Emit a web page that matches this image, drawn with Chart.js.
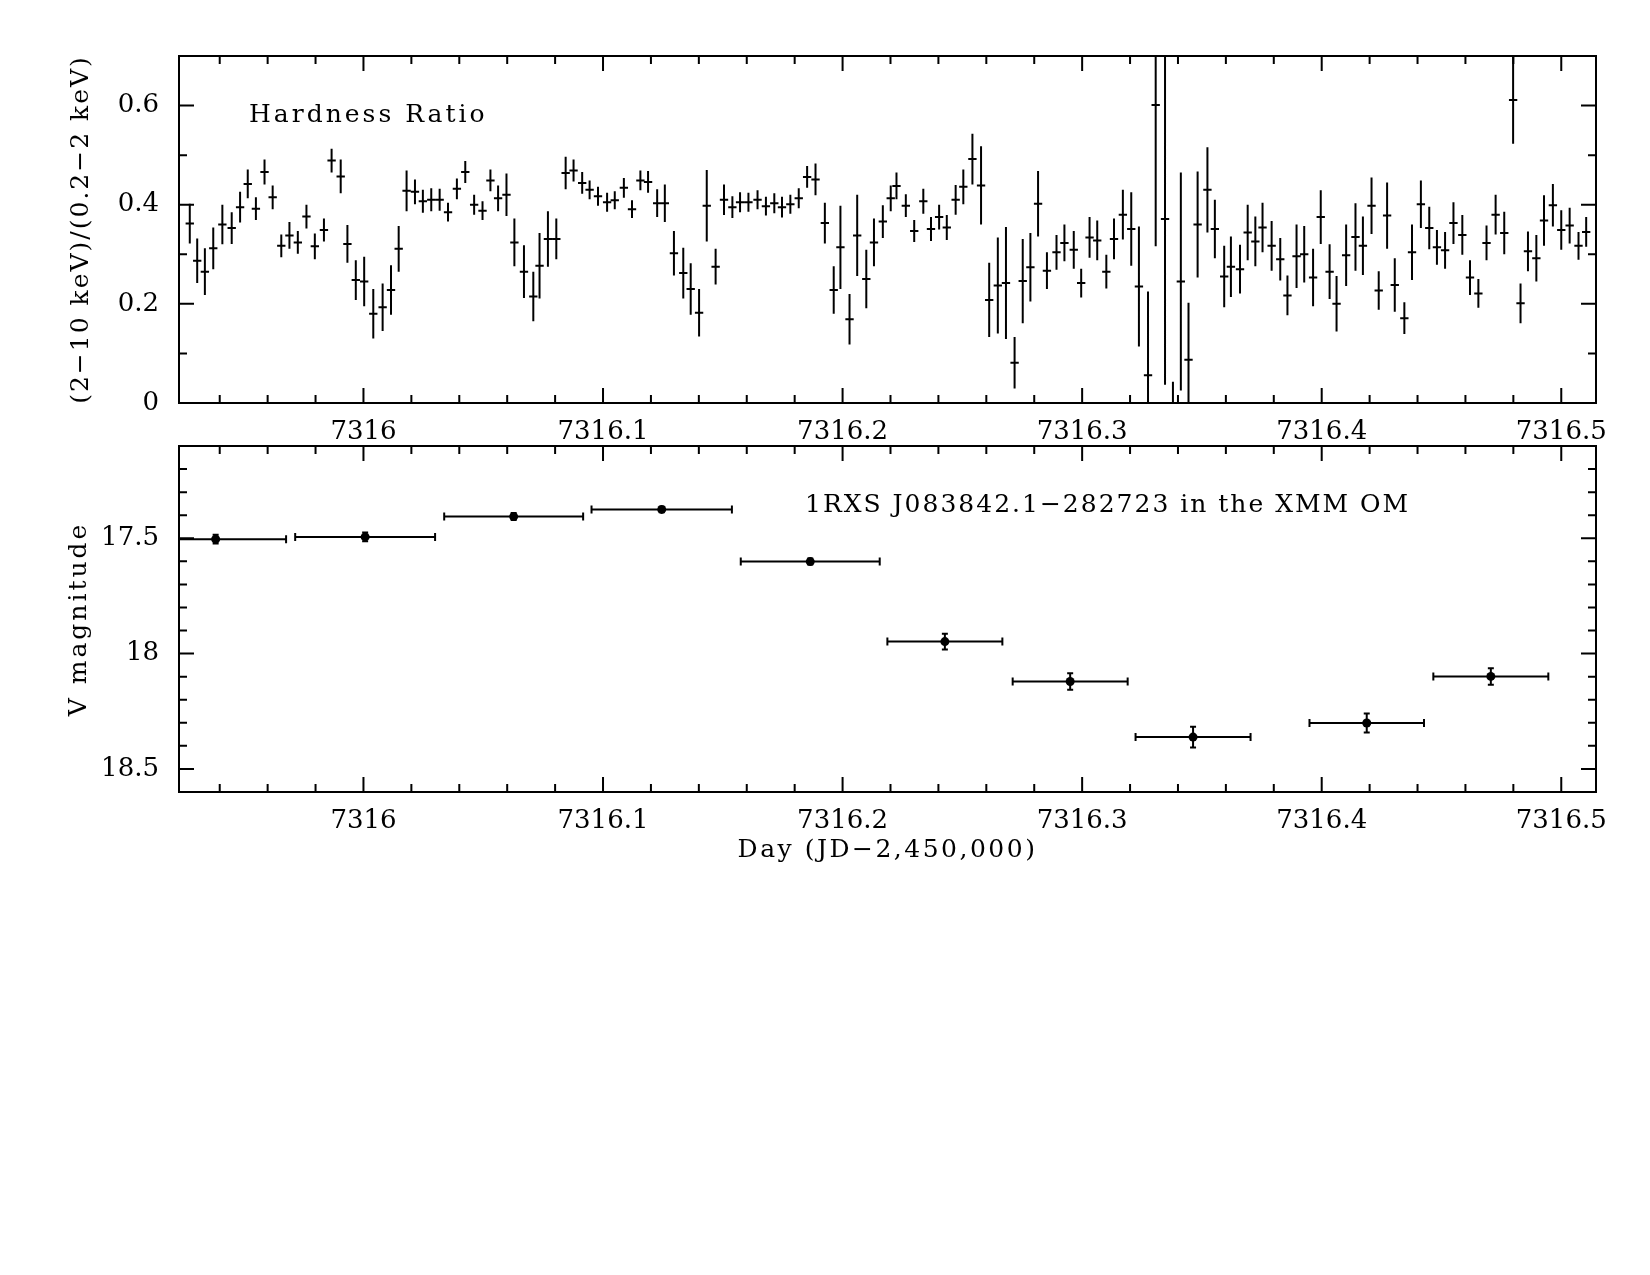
<!DOCTYPE html>
<html>
<head>
<meta charset="utf-8">
<script src="https://cdn.jsdelivr.net/npm/chart.js@4"></script>
<style>
body { margin: 0; background: #fff; }
#wrap { position: relative; width: 1650px; height: 1275px; background: #fff; }
canvas { position: absolute; left: 0; }
</style>
</head>
<body>
<div id="wrap">
  <canvas id="hr" width="1650" height="446" style="top:0px"></canvas>
  <canvas id="om" width="1650" height="472" style="top:408px"></canvas>
</div>
<script>
// Hardness ratio light curve (day, ratio, 1-sigma error)
const hrTime = [
  7315.9275, 7315.9306, 7315.9338, 7315.9373, 7315.9411, 7315.9450, 7315.9485, 7315.9517, 7315.9551, 7315.9587,
  7315.9621, 7315.9657, 7315.9691, 7315.9726, 7315.9762, 7315.9797, 7315.9835, 7315.9867, 7315.9905, 7315.9933,
  7315.9968, 7316.0003, 7316.0041, 7316.0080, 7316.0115, 7316.0147, 7316.0180, 7316.0215, 7316.0248, 7316.0283,
  7316.0318, 7316.0353, 7316.0390, 7316.0425, 7316.0462, 7316.0497, 7316.0530, 7316.0562, 7316.0597, 7316.0630,
  7316.0670, 7316.0709, 7316.0735, 7316.0770, 7316.0805, 7316.0844, 7316.0877, 7316.0913, 7316.0944, 7316.0979,
  7316.1017, 7316.1049, 7316.1087, 7316.1121, 7316.1156, 7316.1188, 7316.1226, 7316.1258, 7316.1296, 7316.1335,
  7316.1366, 7316.1401, 7316.1433, 7316.1470, 7316.1505, 7316.1540, 7316.1572, 7316.1607, 7316.1645, 7316.1680,
  7316.1715, 7316.1747, 7316.1782, 7316.1817, 7316.1852, 7316.1887, 7316.1926, 7316.1963, 7316.1991, 7316.2029,
  7316.2061, 7316.2099, 7316.2131, 7316.2168, 7316.2201, 7316.2225, 7316.2264, 7316.2299, 7316.2337, 7316.2369,
  7316.2403, 7316.2435, 7316.2472, 7316.2504, 7316.2542, 7316.2578, 7316.2612, 7316.2648, 7316.2682, 7316.2718,
  7316.2752, 7316.2784, 7316.2816, 7316.2853, 7316.2893, 7316.2926, 7316.2965, 7316.2996, 7316.3031, 7316.3063,
  7316.3101, 7316.3133, 7316.3170, 7316.3205, 7316.3237, 7316.3275, 7316.3307, 7316.3346, 7316.3379, 7316.3412,
  7316.3444, 7316.3482, 7316.3523, 7316.3554, 7316.3593, 7316.3621, 7316.3659, 7316.3691, 7316.3723, 7316.3753,
  7316.3791, 7316.3827, 7316.3857, 7316.3895, 7316.3927, 7316.3964, 7316.3996, 7316.4033, 7316.4062, 7316.4102,
  7316.4141, 7316.4172, 7316.4208, 7316.4238, 7316.4273, 7316.4305, 7316.4345, 7316.4377, 7316.4414, 7316.4449,
  7316.4481, 7316.4515, 7316.4550, 7316.4587, 7316.4619, 7316.4654, 7316.4688, 7316.4726, 7316.4762, 7316.4799,
  7316.4830, 7316.4861, 7316.4896, 7316.4928, 7316.4965, 7316.5000, 7316.5035, 7316.5072, 7316.5104
];
const hrRatio = [
  0.362, 0.287, 0.265, 0.312, 0.360, 0.353, 0.395, 0.442, 0.392, 0.466,
  0.415, 0.317, 0.338, 0.324, 0.376, 0.316, 0.349, 0.489, 0.457, 0.321,
  0.248, 0.245, 0.180, 0.193, 0.228, 0.311, 0.428, 0.426, 0.407, 0.410,
  0.410, 0.385, 0.432, 0.466, 0.400, 0.388, 0.449, 0.413, 0.420, 0.324,
  0.265, 0.215, 0.277, 0.331, 0.331, 0.464, 0.469, 0.444, 0.430, 0.417,
  0.405, 0.409, 0.434, 0.391, 0.449, 0.446, 0.403, 0.403, 0.302, 0.262,
  0.230, 0.182, 0.398, 0.275, 0.410, 0.395, 0.405, 0.405, 0.410, 0.397,
  0.403, 0.395, 0.401, 0.413, 0.456, 0.451, 0.363, 0.228, 0.314, 0.169,
  0.338, 0.250, 0.324, 0.366, 0.413, 0.438, 0.398, 0.347, 0.407, 0.351,
  0.375, 0.354, 0.410, 0.436, 0.492, 0.439, 0.208, 0.237, 0.242, 0.081,
  0.246, 0.274, 0.402, 0.267, 0.304, 0.323, 0.309, 0.242, 0.334, 0.328,
  0.265, 0.331, 0.380, 0.351, 0.235, 0.056, 0.601, 0.371, -0.050, 0.245,
  0.087, 0.360, 0.430, 0.351, 0.255, 0.275, 0.270, 0.344, 0.326, 0.354,
  0.317, 0.290, 0.217, 0.296, 0.300, 0.253, 0.375, 0.265, 0.200, 0.298,
  0.335, 0.317, 0.398, 0.227, 0.378, 0.238, 0.171, 0.304, 0.401, 0.353,
  0.314, 0.308, 0.363, 0.339, 0.253, 0.221, 0.323, 0.380, 0.343, 0.611,
  0.201, 0.306, 0.292, 0.368, 0.399, 0.349, 0.358, 0.317, 0.345
];
const hrErr = [
  0.040, 0.045, 0.047, 0.042, 0.040, 0.032, 0.031, 0.029, 0.023, 0.025,
  0.024, 0.023, 0.027, 0.023, 0.024, 0.026, 0.023, 0.024, 0.034, 0.038,
  0.040, 0.050, 0.050, 0.048, 0.050, 0.046, 0.041, 0.025, 0.023, 0.023,
  0.022, 0.019, 0.021, 0.022, 0.020, 0.019, 0.022, 0.026, 0.043, 0.048,
  0.053, 0.050, 0.066, 0.056, 0.041, 0.033, 0.022, 0.022, 0.019, 0.019,
  0.019, 0.018, 0.020, 0.018, 0.020, 0.022, 0.028, 0.038, 0.045, 0.051,
  0.052, 0.048, 0.072, 0.036, 0.031, 0.022, 0.020, 0.019, 0.019, 0.019,
  0.020, 0.021, 0.019, 0.020, 0.022, 0.032, 0.041, 0.048, 0.084, 0.051,
  0.082, 0.059, 0.048, 0.033, 0.026, 0.027, 0.023, 0.022, 0.025, 0.024,
  0.025, 0.025, 0.030, 0.035, 0.051, 0.079, 0.075, 0.097, 0.113, 0.052,
  0.085, 0.069, 0.066, 0.037, 0.035, 0.037, 0.038, 0.029, 0.041, 0.040,
  0.034, 0.041, 0.050, 0.074, 0.121, 0.169, 0.285, 0.334, 0.093, 0.220,
  0.115, 0.107, 0.086, 0.059, 0.062, 0.061, 0.049, 0.056, 0.050, 0.050,
  0.050, 0.043, 0.040, 0.064, 0.057, 0.058, 0.054, 0.055, 0.056, 0.062,
  0.068, 0.059, 0.057, 0.039, 0.067, 0.054, 0.032, 0.056, 0.048, 0.043,
  0.035, 0.037, 0.042, 0.040, 0.035, 0.029, 0.035, 0.040, 0.043, 0.088,
  0.040, 0.040, 0.047, 0.051, 0.043, 0.040, 0.036, 0.028, 0.030
];
const hrBinHalf = 0.00174;

// XMM OM V-band photometry
const omTime = [7315.9383, 7316.0007, 7316.0627, 7316.1245, 7316.1865, 7316.2427, 7316.2950, 7316.3463, 7316.4188, 7316.4706];
const omTimeErr = [0.0294, 0.0292, 0.0290, 0.0293, 0.0290, 0.0240, 0.0240, 0.0240, 0.0239, 0.0240];
const omMag = [17.504, 17.494, 17.406, 17.375, 17.601, 17.948, 18.121, 18.362, 18.301, 18.099];
const omMagErr = [0.019, 0.019, 0.015, 0.012, 0.013, 0.034, 0.036, 0.045, 0.041, 0.036];

// axes
const dayMin = 7315.923, dayMax = 7316.5145;
const dayTicks = [7316, 7316.1, 7316.2, 7316.3, 7316.4, 7316.5];
const dayTickLabels = ['7316', '7316.1', '7316.2', '7316.3', '7316.4', '7316.5'];
const hrTicks = [0, 0.2, 0.4, 0.6];
const hrTickLabels = ['0', '0.2', '0.4', '0.6'];
const magTicks = [17.5, 18, 18.5];
const magTickLabels = ['17.5', '18', '18.5'];

const FONT = '"DejaVu Serif", "Liberation Serif", serif';
Chart.defaults.font.family = FONT;
Chart.defaults.font.size = 26;
Chart.defaults.color = '#000';

// box with inward major/minor ticks on all four sides
function frameTicks(xStep, xEvery, yStep, yEvery) {
  return {
    id: 'frameTicks',
    afterDraw(chart) {
      const ctx = chart.ctx, a = chart.chartArea;
      const sx = chart.scales.x, sy = chart.scales.y;
      ctx.save();
      ctx.strokeStyle = '#000';
      ctx.lineWidth = 2;
      ctx.strokeRect(a.left, a.top, a.right - a.left, a.bottom - a.top);
      ctx.beginPath();
      for (let k = Math.ceil(sx.min / xStep - 1e-6); k * xStep <= sx.max + 1e-9; k++) {
        const p = sx.getPixelForValue(k * xStep);
        const len = k % xEvery === 0 ? 15 : 8;
        ctx.moveTo(p, a.bottom); ctx.lineTo(p, a.bottom - len);
        ctx.moveTo(p, a.top); ctx.lineTo(p, a.top + len);
      }
      for (let k = Math.ceil(sy.min / yStep - 1e-6); k * yStep <= sy.max + 1e-9; k++) {
        const p = sy.getPixelForValue(k * yStep);
        const len = k % yEvery === 0 ? 15 : 8;
        ctx.moveTo(a.left, p); ctx.lineTo(a.left + len, p);
        ctx.moveTo(a.right, p); ctx.lineTo(a.right - len, p);
      }
      ctx.stroke();
      ctx.restore();
    }
  };
}

// error bars, clipped to the plot box
function errorBars(xs, xe, ys, ye, cap) {
  return {
    id: 'errorBars',
    afterDatasetsDraw(chart) {
      const ctx = chart.ctx, a = chart.chartArea;
      const sx = chart.scales.x, sy = chart.scales.y;
      ctx.save();
      ctx.beginPath();
      ctx.rect(a.left, a.top, a.right - a.left, a.bottom - a.top);
      ctx.clip();
      ctx.strokeStyle = '#000';
      ctx.lineWidth = 2;
      ctx.beginPath();
      for (let i = 0; i < xs.length; i++) {
        const dx = Array.isArray(xe) ? xe[i] : xe;
        const px = sx.getPixelForValue(xs[i]), py = sy.getPixelForValue(ys[i]);
        const x0 = sx.getPixelForValue(xs[i] - dx), x1 = sx.getPixelForValue(xs[i] + dx);
        const y0 = sy.getPixelForValue(ys[i] - ye[i]), y1 = sy.getPixelForValue(ys[i] + ye[i]);
        ctx.moveTo(x0, py); ctx.lineTo(x1, py);
        ctx.moveTo(px, y0); ctx.lineTo(px, y1);
        if (cap) {
          ctx.moveTo(x0, py - cap); ctx.lineTo(x0, py + cap);
          ctx.moveTo(x1, py - cap); ctx.lineTo(x1, py + cap);
          ctx.moveTo(px - cap * 0.75, y0); ctx.lineTo(px + cap * 0.75, y0);
          ctx.moveTo(px - cap * 0.75, y1); ctx.lineTo(px + cap * 0.75, y1);
        }
      }
      ctx.stroke();
      ctx.restore();
    }
  };
}

// labels with PGPLOT-like wide spacing
function labels(items) {
  return {
    id: 'labels',
    afterDraw(chart) {
      const ctx = chart.ctx, a = chart.chartArea;
      items.forEach(it => {
        const [x, y] = it.at(a);
        ctx.save();
        ctx.font = '25px ' + FONT;
        ctx.fillStyle = '#000';
        ctx.letterSpacing = (it.ls || 3) + 'px';
        ctx.textAlign = it.align || 'left';
        ctx.textBaseline = 'alphabetic';
        ctx.translate(x, y);
        if (it.rot) ctx.rotate(-Math.PI / 2);
        ctx.fillText(it.text, 0, 0);
        ctx.restore();
      });
    }
  };
}

function setTicks(values) {
  return scale => { scale.ticks = values.map(v => ({ value: v })); };
}

function dayAxis(height) {
  return {
    type: 'linear',
    min: dayMin,
    max: dayMax,
    grid: { display: false, drawTicks: false },
    border: { display: false },
    afterBuildTicks: setTicks(dayTicks),
    afterFit: s => { s.height = height; },
    ticks: { padding: 14, maxRotation: 0, autoSkip: false, callback: (v, i) => dayTickLabels[i] }
  };
}

new Chart(document.getElementById('hr'), {
  type: 'scatter',
  data: {
    datasets: [{
      data: hrTime.map((t, i) => ({ x: t, y: hrRatio[i] })),
      pointRadius: 0,
      pointHoverRadius: 0
    }]
  },
  options: {
    responsive: false,
    animation: false,
    layout: { padding: { top: 56, right: 54, left: 0, bottom: 0 } },
    plugins: { legend: { display: false }, tooltip: { enabled: false } },
    scales: {
      x: dayAxis(43),
      y: {
        min: 0,
        max: 0.7,
        grid: { display: false, drawTicks: false },
        border: { display: false },
        afterBuildTicks: setTicks(hrTicks),
        afterFit: s => { s.width = 179; },
        ticks: { padding: 20, callback: (v, i) => hrTickLabels[i] }
      }
    }
  },
  plugins: [
    errorBars(hrTime, hrBinHalf, hrRatio, hrErr, 0),
    frameTicks(0.02, 5, 0.1, 2),
    labels([
      { text: 'Hardness Ratio', at: a => [a.left + 70, a.top + 66] },
      { text: '(2\u221210 keV)/(0.2\u22122 keV)', rot: true, align: 'center', ls: 2, at: a => [88, (a.top + a.bottom) / 2] }
    ])
  ]
});

new Chart(document.getElementById('om'), {
  type: 'scatter',
  data: {
    datasets: [{
      data: omTime.map((t, i) => ({ x: t, y: omMag[i] })),
      pointRadius: 4.5,
      pointHoverRadius: 4.5,
      backgroundColor: '#000',
      borderColor: '#000',
      borderWidth: 0
    }]
  },
  options: {
    responsive: false,
    animation: false,
    layout: { padding: { top: 38, right: 54, left: 0, bottom: 0 } },
    plugins: { legend: { display: false }, tooltip: { enabled: false } },
    scales: {
      x: dayAxis(88),
      y: {
        reverse: true,
        min: 17.1,
        max: 18.6,
        grid: { display: false, drawTicks: false },
        border: { display: false },
        afterBuildTicks: setTicks(magTicks),
        afterFit: s => { s.width = 179; },
        ticks: { padding: 20, callback: (v, i) => magTickLabels[i] }
      }
    }
  },
  plugins: [
    errorBars(omTime, omTimeErr, omMag, omMagErr, 4),
    frameTicks(0.02, 5, 0.1, 5),
    labels([
      { text: '1RXS J083842.1\u2212282723 in the XMM OM', ls: 2, at: a => [a.left + 626, a.top + 66] },
      { text: 'V magnitude', rot: true, align: 'center', at: a => [86, (a.top + a.bottom) / 2] },
      { text: 'Day (JD\u22122,450,000)', align: 'center', ls: 2.5, at: a => [(a.left + a.right) / 2, a.bottom + 65] }
    ])
  ]
});
</script>
</body>
</html>
